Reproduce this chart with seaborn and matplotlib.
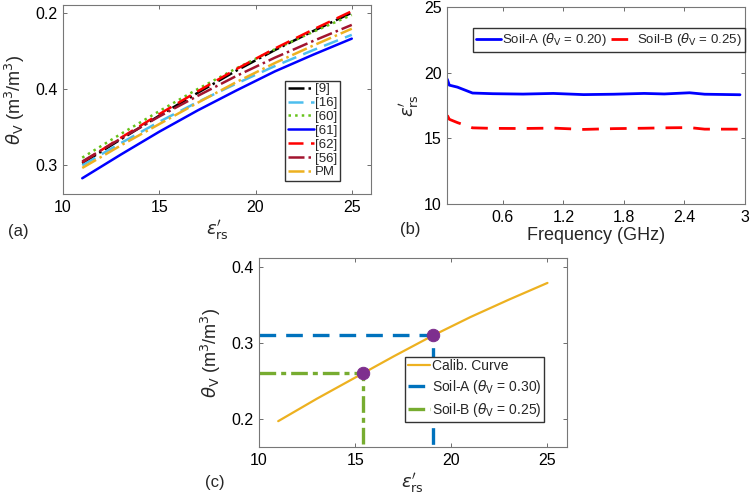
import numpy as np
import pandas as pd
import matplotlib
matplotlib.use("Agg")
import matplotlib.pyplot as plt
import seaborn as sns

# panel (a): theta_V vs eps'_rs for several models
eps = [11, 13, 15, 17, 19, 21, 23, 25]
m9 = [0.2025, 0.234, 0.265, 0.295, 0.324, 0.351, 0.376, 0.400]
m16 = [0.200, 0.229, 0.257, 0.283, 0.307, 0.330, 0.351, 0.371]
m60 = [0.210, 0.241, 0.271, 0.300, 0.327, 0.352, 0.375, 0.397]
m61 = [0.183, 0.214, 0.244, 0.272, 0.298, 0.323, 0.345, 0.366]
m62 = [0.204, 0.236, 0.267, 0.297, 0.326, 0.353, 0.378, 0.402]
m56 = [0.205, 0.235, 0.264, 0.291, 0.317, 0.341, 0.363, 0.384]
pm = [0.1965, 0.226, 0.254, 0.282, 0.309, 0.334, 0.357, 0.379]
a_ticklabels = ["0.3", "0.4", "0.2"]  # as printed on the original

# panel (b): measured permittivity vs frequency
freq = [0.05, 0.07, 0.15, 0.3, 0.5, 0.8, 1.1, 1.4, 1.7, 2.0, 2.2, 2.45, 2.6, 2.95]
soil_a = [19.5, 19.05, 18.9, 18.45, 18.4, 18.37, 18.42, 18.33, 18.36, 18.42, 18.38, 18.47, 18.36, 18.32]
soil_b = [16.75, 16.45, 16.2, 15.8, 15.76, 15.75, 15.78, 15.68, 15.74, 15.77, 15.8, 15.82, 15.7, 15.7]

# panel (c): calibration curve and read-outs
eps_a, theta_a = 19.05, 0.31
eps_b, theta_b = 15.4, 0.26

sns.set_theme(style="ticks")
plt.rcParams["font.family"] = ["Liberation Sans", "DejaVu Sans"]
plt.rcParams["mathtext.fontset"] = "dejavusans"
plt.rcParams["xtick.direction"] = "in"
plt.rcParams["ytick.direction"] = "in"

fig = plt.figure(figsize=(7.5, 5.04), dpi=100)
ax_a = fig.add_axes([0.084, 0.6145, 0.4107, 0.3762])
ax_b = fig.add_axes([0.5964, 0.5952, 0.397, 0.3909])
ax_c = fig.add_axes([0.3453, 0.1125, 0.4103, 0.375])

xlab = r"$\epsilon^{\prime}_{\rm rs}$"
ylab = r"$\theta_{\rm V}$ (m$^3$/m$^3$)"

# ---- (a)
series = [
    ("[9]", m9, "black", "-."),
    ("[16]", m16, "#4DBEEE", (0, (6, 3))),
    ("[60]", m60, "#66C21A", ":"),
    ("[61]", m61, "#0000FF", "-"),
    ("[62]", m62, "#FF0000", (0, (6, 3))),
    ("[56]", m56, "#A2142F", "-."),
    ("PM", pm, "#EDB120", "-."),
]
for name, vals, col, ls in series:
    sns.lineplot(x=eps, y=vals, ax=ax_a, color=col, linestyle=ls, lw=1.8, label=name,
                 estimator=None, legend=False)
ax_a.set_xlim(10, 26)
ax_a.set_ylim(0.162, 0.4105)
ax_a.set_xticks([10, 15, 20, 25])
ax_a.set_yticks([0.2, 0.3, 0.4])
ax_a.set_yticklabels(a_ticklabels)
ax_a.set_xlabel(xlab, fontsize=13, labelpad=2)
ax_a.set_ylabel(ylab, fontsize=13, labelpad=6)
ax_a.legend(loc="lower right", bbox_to_anchor=(0.9, 0.07), fontsize=9.5, handlelength=2.0,
            handletextpad=0.1, labelspacing=0.12, borderpad=0.2, borderaxespad=0,
            frameon=True, fancybox=False, edgecolor="#333333", framealpha=1)

# ---- (b)
sns.lineplot(x=freq, y=soil_a, ax=ax_b, color="#0000FF", lw=2, sort=False, estimator=None,
             label=r"Soil-A ($\theta_{\rm V}$ = 0.20)", legend=False)
sns.lineplot(x=freq, y=soil_b, ax=ax_b, color="#FF0000", lw=2, linestyle=(0, (6, 4)), sort=False,
             estimator=None, label=r"Soil-B ($\theta_{\rm V}$ = 0.25)", legend=False)
ax_b.set_xlim(0.05, 3.0)
ax_b.set_ylim(10, 25)
ax_b.set_xticks([0.6, 1.2, 1.8, 2.4, 3.0])
ax_b.set_xticklabels(["0.6", "1.2", "1.8", "2.4", "3"])
ax_b.set_yticks([10, 15, 20, 25])
ax_b.set_xlabel("Frequency (GHz)", fontsize=13, labelpad=2)
ax_b.set_ylabel(xlab, fontsize=13, labelpad=2)
ax_b.legend(loc="upper left", bbox_to_anchor=(0.085, 0.893), ncol=2, fontsize=9.5,
            handlelength=1.9, handletextpad=0.1, columnspacing=0.3, borderpad=0.25,
            borderaxespad=0, frameon=True, fancybox=False, edgecolor="#333333", framealpha=1)

# ---- (c)
sns.lineplot(x=eps, y=pm, ax=ax_c, color="#EDB120", lw=1.6, label="Calib. Curve",
             estimator=None, legend=False)
sns.lineplot(x=[10, eps_a, eps_a], y=[theta_a, theta_a, 0.15], ax=ax_c, sort=False,
             estimator=None, color="#0072BD", lw=2.4, linestyle=(0, (5, 3)),
             label=r"Soil-A ($\theta_{\rm V}$ = 0.30)", legend=False)
sns.lineplot(x=[10, eps_b, eps_b], y=[theta_b, theta_b, 0.15], ax=ax_c, sort=False,
             estimator=None, color="#77AC30", lw=2.4, linestyle=(0, (5, 1.5, 1.5, 1.5)),
             label=r"Soil-B ($\theta_{\rm V}$ = 0.25)", legend=False)
sns.scatterplot(x=[eps_b, eps_a], y=[theta_b, theta_a], ax=ax_c, color="#7E2F8E",
                s=80, marker="o", edgecolor="#7E2F8E", zorder=5, legend=False)
ax_c.set_xlim(10, 26)
ax_c.set_ylim(0.162, 0.4115)
ax_c.set_xticks([10, 15, 20, 25])
ax_c.set_yticks([0.2, 0.3, 0.4])
ax_c.set_xlabel(xlab, fontsize=13, labelpad=2)
ax_c.set_ylabel(ylab, fontsize=13, labelpad=6)
ax_c.legend(loc="lower right", bbox_to_anchor=(0.926, 0.135), fontsize=10,
            handlelength=1.6, handletextpad=0.1, labelspacing=0.35, borderpad=0.2,
            borderaxespad=0, frameon=True, fancybox=False, edgecolor="#333333", framealpha=1)

for ax in (ax_a, ax_b, ax_c):
    ax.tick_params(axis="both", labelsize=11.5, length=3, width=0.6, color="#555555",
                   labelcolor="black", top=True, right=True, pad=4)
    for sp in ax.spines.values():
        sp.set_visible(True)
        sp.set_color("#777777")
        sp.set_linewidth(0.8)

fig.text(0.024, 0.541, "(a)", fontsize=12, ha="center", va="center")
fig.text(0.547, 0.544, "(b)", fontsize=12, ha="center", va="center")
fig.text(0.287, 0.042, "(c)", fontsize=12, ha="center", va="center")

fig.savefig("out.png", dpi=100)
